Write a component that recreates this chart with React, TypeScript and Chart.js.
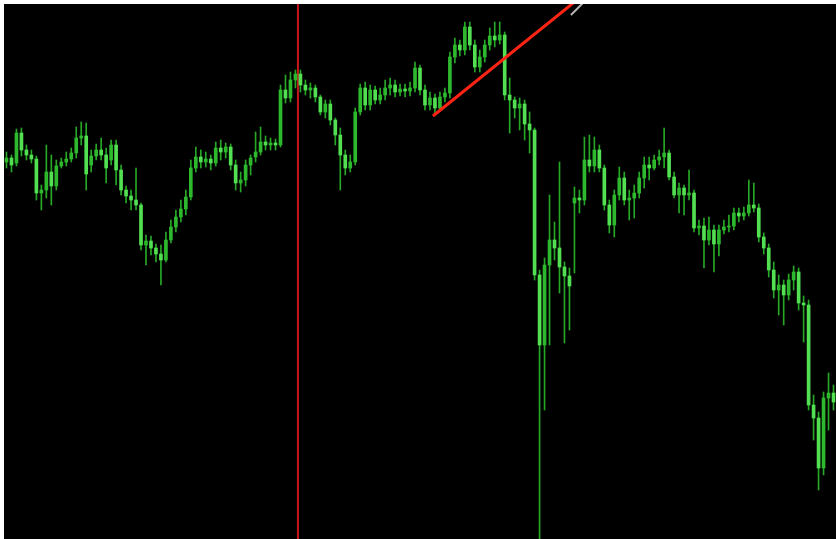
import React, { useEffect, useRef } from "react";
import { Chart, registerables } from "chart.js";

Chart.register(...registerables);

// OHLC prices in points (one bar per period)
const opens = [
  378, 382, 377, 407, 390, 385, 381, 347, 350, 368,
  354, 374, 378, 381, 387, 402, 404, 375, 384, 390,
  385, 380, 395, 370, 350, 344, 340, 335, 295, 299,
  292, 286, 280, 300, 313, 323, 331, 343, 372, 383,
  378, 381, 377, 392, 388, 393, 375, 357, 360, 375,
  383, 388, 398, 395, 397, 395, 450, 442, 460, 466,
  455, 450, 452, 443, 428, 436, 420, 405, 385, 372,
  378, 428, 452, 435, 450, 440, 445, 452, 455, 448,
  451, 449, 452, 472, 450, 435, 442, 432, 443, 447,
  483, 495, 490, 513, 495, 473, 483, 495, 504, 500,
  505, 445, 440, 432, 436, 416, 410, 265, 195, 275,
  300, 292, 273, 264, 337, 342, 340, 380, 374, 390,
  372, 335, 315, 345, 362, 340, 342, 347, 362, 375,
  372, 380, 383, 387, 363, 345, 352, 345, 347, 312,
  314, 300, 310, 296, 310, 313, 314, 327, 324, 327,
  335, 332, 303, 292, 270, 250, 255, 245, 260, 268,
  237, 235, 135, 122, 72, 142, 147,
];
const closes = [
  382, 375, 407, 390, 385, 381, 347, 350, 368, 354,
  374, 378, 381, 387, 402, 404, 366, 384, 390, 385,
  372, 395, 370, 350, 344, 340, 335, 295, 299, 292,
  286, 280, 300, 313, 323, 331, 343, 372, 383, 378,
  381, 377, 392, 388, 393, 375, 357, 360, 375, 382,
  388, 398, 395, 397, 395, 450, 442, 460, 466, 455,
  450, 452, 443, 428, 436, 420, 405, 385, 372, 378,
  428, 452, 435, 450, 440, 445, 452, 455, 448, 451,
  449, 452, 472, 450, 435, 442, 432, 443, 447, 483,
  495, 490, 513, 495, 473, 483, 495, 504, 500, 505,
  445, 440, 432, 436, 416, 410, 265, 195, 275, 300,
  292, 273, 264, 254, 342, 340, 380, 374, 390, 372,
  335, 315, 345, 362, 340, 342, 347, 362, 375, 372,
  380, 383, 387, 363, 345, 352, 345, 347, 312, 314,
  300, 310, 296, 310, 313, 314, 327, 324, 327, 335,
  332, 303, 292, 270, 250, 255, 245, 260, 268, 237,
  235, 135, 122, 72, 142, 147, 138,
];
const highs = [
  388, 385, 411, 412, 395, 390, 384, 355, 395, 385,
  380, 382, 388, 392, 413, 418, 417, 390, 396, 402,
  392, 400, 400, 375, 354, 350, 372, 337, 305, 304,
  296, 295, 308, 320, 330, 340, 350, 380, 393, 390,
  388, 385, 398, 400, 397, 396, 380, 368, 380, 385,
  408, 413, 404, 402, 401, 455, 465, 468, 470, 470,
  460, 457, 455, 445, 440, 440, 422, 412, 390, 385,
  432, 456, 458, 455, 454, 452, 460, 462, 460, 456,
  456, 458, 478, 475, 455, 448, 446, 448, 452, 488,
  502, 500, 518, 518, 500, 490, 500, 512, 518, 518,
  508, 462, 443, 442, 440, 428, 412, 270, 282, 345,
  318, 378, 278, 272, 353, 350, 403, 405, 403, 395,
  375, 340, 350, 373, 368, 350, 355, 368, 383, 383,
  385, 390, 412, 390, 368, 357, 355, 370, 350, 320,
  322, 323, 315, 315, 320, 325, 332, 332, 333, 360,
  357, 336, 307, 296, 278, 265, 260, 266, 274, 272,
  244, 240, 145, 128, 148, 167, 155,
];
const lows = [
  372, 368, 374, 384, 380, 377, 340, 330, 342, 335,
  350, 372, 374, 378, 382, 395, 350, 368, 380, 380,
  357, 375, 355, 345, 337, 330, 330, 290, 275, 285,
  278, 255, 278, 297, 308, 318, 325, 340, 368, 372,
  373, 370, 374, 380, 382, 370, 350, 348, 354, 365,
  378, 385, 390, 390, 390, 393, 437, 438, 452, 448,
  445, 442, 438, 425, 422, 415, 395, 350, 365, 368,
  375, 425, 430, 430, 436, 436, 440, 445, 443, 444,
  443, 444, 448, 445, 430, 430, 427, 430, 438, 442,
  477, 484, 485, 490, 468, 468, 478, 490, 493, 496,
  440, 407, 422, 410, 400, 387, 260, 0, 130, 195,
  280, 247, 197, 210, 267, 327, 335, 368, 368, 368,
  330, 307, 303, 340, 335, 320, 322, 342, 352, 360,
  370, 375, 372, 360, 342, 327, 325, 340, 308, 305,
  272, 295, 268, 284, 306, 308, 310, 318, 320, 324,
  328, 298, 286, 263, 242, 225, 215, 240, 250, 230,
  198, 130, 100, 50, 65, 110, 130,
];

// Drawn objects (bar index, price)
const trendRed = [
  { x: 85.6, y: 424 },
  { x: 116, y: 546 },
];
const trendGray = [
  { x: 113.3, y: 525 },
  { x: 116.5, y: 541 },
];
const vLineBar = 58.5;

const PRICE_MIN = 1;
const PRICE_MAX = 536;

export default function App() {
  const canvasRef = useRef<HTMLCanvasElement | null>(null);

  useEffect(() => {
    const canvas = canvasRef.current;
    if (!canvas) return;
    const n = opens.length;
    const idx = Array.from({ length: n }, (_, i) => i);

    const bgPlugin = {
      id: "blackBg",
      beforeDraw(chart: any) {
        const { ctx, chartArea } = chart;
        ctx.save();
        ctx.fillStyle = "#000000";
        ctx.fillRect(
          chartArea.left,
          chartArea.top,
          chartArea.right - chartArea.left,
          chartArea.bottom - chartArea.top
        );
        ctx.restore();
      },
    };

    const chart = new Chart(canvas, {
      type: "bar",
      data: {
        datasets: [
          {
            type: "line",
            data: [
              { x: vLineBar, y: PRICE_MIN - 20 },
              { x: vLineBar, y: PRICE_MAX + 20 },
            ],
            borderColor: "#c4161d",
            borderWidth: 2,
            pointRadius: 0,
            order: 4,
          } as any,
          {
            type: "bar",
            data: idx.map((i) => ({ x: i, y: [lows[i], highs[i]] })),
            backgroundColor: "#26a826",
            barThickness: 1,
            grouped: false,
            order: 3,
          } as any,
          {
            type: "bar",
            data: idx.map((i) => ({ x: i, y: [opens[i], closes[i]] })),
            backgroundColor: idx.map((i) =>
              closes[i] < opens[i] ? "#52e052" : "#2db82d"
            ),
            barThickness: 3,
            minBarLength: 1,
            grouped: false,
            order: 2,
          } as any,
          {
            type: "line",
            data: trendGray,
            borderColor: "#b5b5b5",
            borderWidth: 2,
            pointRadius: 0,
            order: 1,
          } as any,
          {
            type: "line",
            data: trendRed,
            borderColor: "#ff2414",
            borderWidth: 3,
            pointRadius: 0,
            order: 0,
          } as any,
        ],
      },
      options: {
        animation: false,
        responsive: true,
        maintainAspectRatio: false,
        layout: { padding: { left: 4, top: 4, right: 0, bottom: 0 } },
        plugins: {
          legend: { display: false },
          tooltip: { enabled: false },
        },
        scales: {
          x: {
            type: "linear",
            min: -0.5,
            max: n - 0.5,
            offset: false,
            display: false,
            grid: { display: false },
          },
          y: {
            type: "linear",
            min: PRICE_MIN,
            max: PRICE_MAX,
            display: false,
            grid: { display: false },
          },
        },
      },
      plugins: [bgPlugin],
    } as any);

    return () => chart.destroy();
  }, []);

  return (
    <div
      style={{
        position: "fixed",
        left: 0,
        top: 0,
        width: 836,
        height: 539,
        background: "#ffffff",
      }}
    >
      <canvas ref={canvasRef} style={{ display: "block" }} />
    </div>
  );
}
